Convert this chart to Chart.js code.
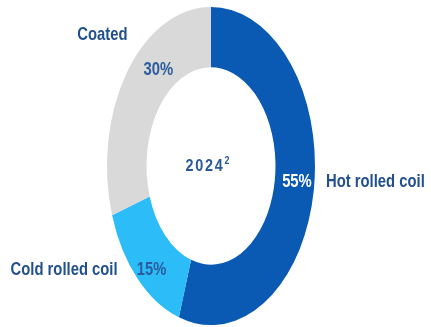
<!DOCTYPE html>
<html>
<head>
<meta charset="utf-8">
<script src="https://cdn.jsdelivr.net/npm/chart.js@4"></script>
<style>
  html, body { margin: 0; padding: 0; background: #ffffff; }
  #wrap { width: 431px; height: 327px; }
</style>
</head>
<body>
<div id="wrap"><canvas id="c" width="431" height="327"></canvas></div>
<script>
// Product mix, share of shipments
const categories = ['Hot rolled coil', 'Cold rolled coil', 'Coated'];
const shares = [55, 15, 30];
const pctLabels = ['55%', '15%', '30%'];
const centerYear = '2024';
const centerNote = '2';

const colors = ['#0A5AB3', '#2CBDF8', '#D9D9D9'];
const pctColors = ['#FFFFFF', '#2A5C9E', '#2A5C9E'];
const navy = '#22508F';
const labelFont = 'bold 19px "Liberation Sans", Arial, sans-serif';
const NARROW = 0.78; // horizontal squeeze for a condensed look

// The ring is drawn as a circle and stretched vertically into an ellipse.
const STRETCH = 1.53;

// Where each percentage sits inside its segment: fraction along the arc and across the ring.
const pctPlacement = [
  { along: 0.49, across: 0.56 },
  { along: 0.43, across: 0.65 },
  { along: 0.63, across: 0.44 }
];
// Category names relative to their percentage label.
const namePlacement = [
  { dx: 29, dy: 0, align: 'left' },
  { dx: -34, dy: 0, align: 'right' },
  { dx: -56, dy: -35, align: 'center' }
];

function narrowText(ctx, text, x, y, align, sx) {
  ctx.save();
  ctx.translate(x, y);
  ctx.scale(sx, 1);
  ctx.textAlign = align;
  ctx.fillText(text, 0, 0);
  ctx.restore();
}

const ellipsePlugin = {
  id: 'ellipse',
  beforeDatasetsDraw(chart) {
    const arc = chart.getDatasetMeta(0).data[0];
    const ctx = chart.ctx;
    ctx.save();
    ctx.translate(arc.x, arc.y);
    ctx.scale(1, STRETCH);
    ctx.translate(-arc.x, -arc.y);
  },
  afterDatasetsDraw(chart) {
    chart.ctx.restore();
  }
};

const labelPlugin = {
  id: 'ringLabels',
  afterDraw(chart) {
    const ctx = chart.ctx;
    const arcs = chart.getDatasetMeta(0).data;
    ctx.save();
    ctx.textBaseline = 'middle';
    ctx.font = labelFont;
    arcs.forEach((arc, i) => {
      const p = arc.getProps(['x', 'y', 'startAngle', 'endAngle', 'innerRadius', 'outerRadius'], true);
      const pl = pctPlacement[i];
      const a = p.startAngle + pl.along * (p.endAngle - p.startAngle);
      const r = p.innerRadius + pl.across * (p.outerRadius - p.innerRadius);
      const px = p.x + Math.cos(a) * r;
      const py = p.y + Math.sin(a) * r * STRETCH;

      ctx.fillStyle = pctColors[i];
      narrowText(ctx, pctLabels[i], px, py, 'center', NARROW);

      const np = namePlacement[i];
      ctx.fillStyle = navy;
      narrowText(ctx, categories[i], px + np.dx, py + np.dy, np.align, NARROW);
    });

    // Year in the middle of the ring, with a footnote marker
    const c = arcs[0];
    ctx.fillStyle = '#2A5A98';
    ctx.font = 'bold 16px "Liberation Sans", Arial, sans-serif';
    ctx.letterSpacing = '2px';
    ctx.save();
    ctx.translate(c.x - 6, c.y + 1);
    ctx.scale(0.9, 1);
    ctx.textAlign = 'center';
    const w = ctx.measureText(centerYear).width;
    ctx.fillText(centerYear, 0, 0);
    ctx.letterSpacing = '0px';
    ctx.font = 'bold 10px "Liberation Sans", Arial, sans-serif';
    ctx.textAlign = 'left';
    ctx.fillText(centerNote, w / 2, -6);
    ctx.restore();
    ctx.restore();
  }
};

new Chart(document.getElementById('c'), {
  type: 'doughnut',
  data: {
    labels: categories,
    datasets: [{
      data: shares,
      backgroundColor: colors,
      borderWidth: 0,
      clip: false
    }]
  },
  options: {
    responsive: false,
    animation: false,
    cutout: '62%',
    rotation: 0,
    layout: { padding: { left: 107, right: 116, top: 62, bottom: 57 } },
    plugins: {
      legend: { display: false },
      tooltip: { enabled: false }
    }
  },
  plugins: [ellipsePlugin, labelPlugin]
});
</script>
</body>
</html>
